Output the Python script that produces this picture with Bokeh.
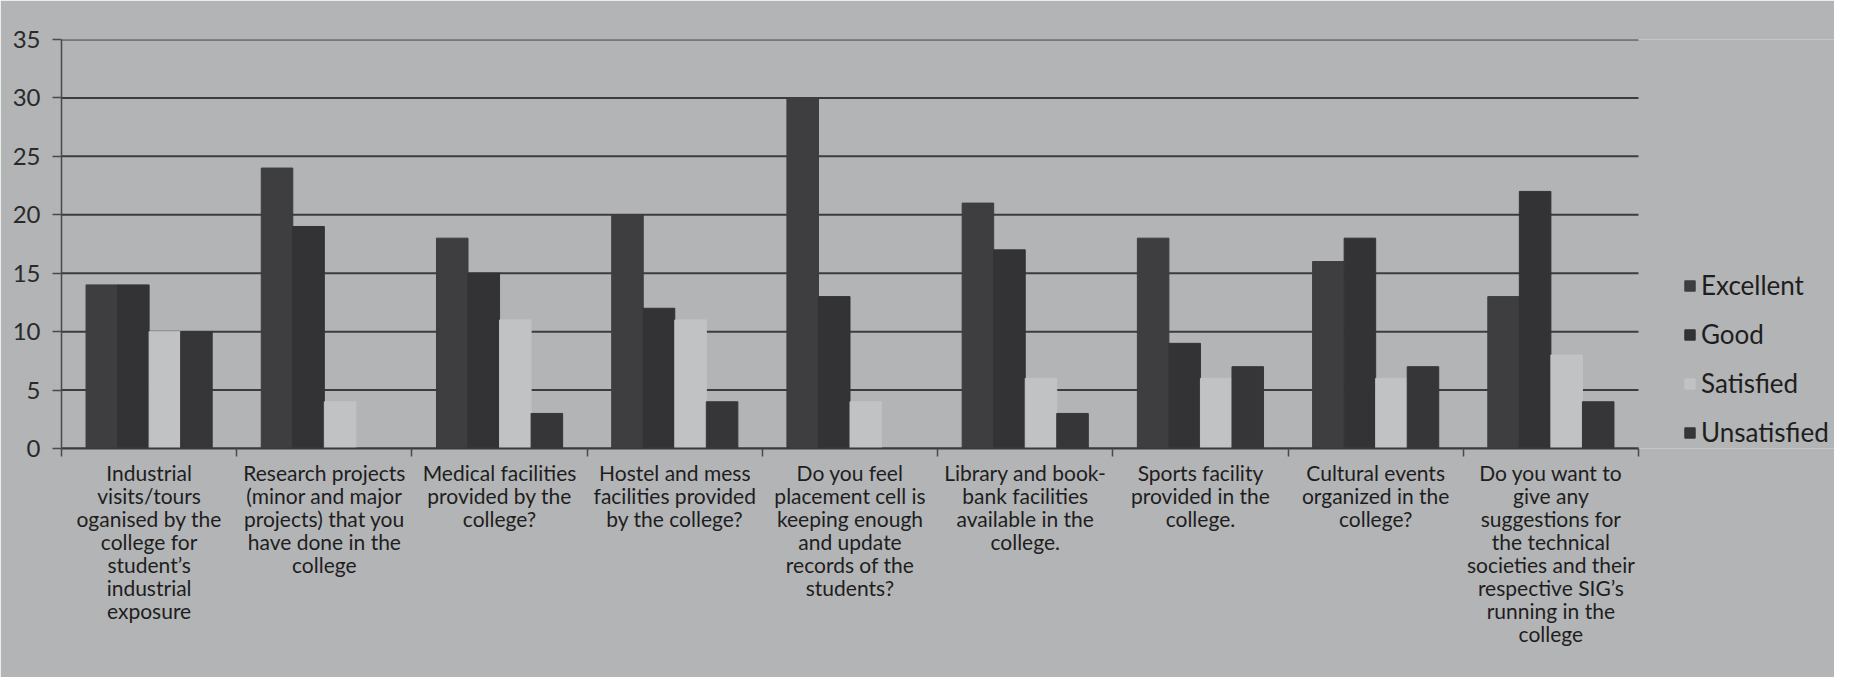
from bokeh.plotting import figure
from bokeh.models import (Range1d, FixedTicker, ColumnDataSource, Legend, LegendItem)
from bokeh.transform import dodge
from bokeh.embed import file_html
from bokeh.resources import INLINE

categories = [
    "Industrial\nvisits/tours\noganised by the\ncollege for\nstudent\u2019s\nindustrial\nexposure",
    "Research projects\n(minor and major\nprojects) that you\nhave done in the\ncollege",
    "Medical facilities\nprovided by the\ncollege?",
    "Hostel and mess\nfacilities provided\nby the college?",
    "Do you feel\nplacement cell is\nkeeping enough\nand update\nrecords of the\nstudents?",
    "Library and book-\nbank facilities\navailable in the\ncollege.",
    "Sports facility\nprovided in the\ncollege.",
    "Cultural events\norganized in the\ncollege?",
    "Do you want to\ngive any\nsuggestions for\nthe technical\nsocieties and their\nrespective SIG\u2019s\nrunning in the\ncollege",
]
excellent   = [14, 24, 18, 20, 30, 21, 18, 16, 13]
good        = [14, 19, 15, 12, 13, 17,  9, 18, 22]
satisfied   = [10,  4, 11, 11,  4,  6,  6,  6,  8]
unsatisfied = [10,  0,  3,  4,  0,  3,  7,  7,  4]
series = ["Excellent", "Good", "Satisfied", "Unsatisfied"]
y_ticks = [0, 5, 10, 15, 20, 25, 30, 35]

BG = "#b3b4b6"
colors = ["#3e3e40", "#333335", "#c1c2c4", "#363638"]
FONT = "Lato"

W, H = 1834, 677
LEFT, TOP, BOTTOM = 61, 39, 229
PLOT_RIGHT = 1638          # where the category axis ends
n = len(categories)
x_end = n * (W - LEFT) / (PLOT_RIGHT - LEFT)   # extra room on the right for the legend

centers = [i + 0.5 for i in range(n)]
src = ColumnDataSource(dict(x=centers, Excellent=excellent, Good=good,
                            Satisfied=satisfied, Unsatisfied=unsatisfied))
grid_src = ColumnDataSource(dict(y=y_ticks, x0=[0] * len(y_ticks), x1=[n] * len(y_ticks)))

p = figure(width=W, height=H, output_backend="svg", toolbar_location=None,
           x_range=Range1d(0, x_end), y_range=Range1d(0, 35),
           min_border_left=LEFT, min_border_right=0, min_border_top=TOP, min_border_bottom=BOTTOM)
p.background_fill_color = BG
p.border_fill_color = BG
p.outline_line_color = None
p.xgrid.grid_line_color = None
p.ygrid.grid_line_color = None

# horizontal gridlines over the category area only
p.segment(x0="x0", x1="x1", y0="y", y1="y", source=grid_src,
          line_color="#3c3c3c", line_width=2)

bw = 0.18
offs = [-1.5 * bw, -0.5 * bw, 0.5 * bw, 1.5 * bw]
renderers = []
for s, c, o in zip(series, colors, offs):
    r = p.vbar(x=dodge("x", o), top=s, width=bw, bottom=0, source=src,
               fill_color=c, line_color=c, line_width=1)
    renderers.append(r)

# y axis
p.yaxis.ticker = FixedTicker(ticks=y_ticks)
p.yaxis.major_label_text_font = FONT
p.yaxis.major_label_text_font_size = "24px"
p.yaxis.major_label_text_color = "#2a2a2a"
p.yaxis.axis_line_color = "#4a4a4a"
p.yaxis.axis_line_width = 1.5
p.yaxis.major_tick_line_color = "#4a4a4a"
p.yaxis.major_tick_line_width = 1.5
p.yaxis.major_tick_out = 9
p.yaxis.major_tick_in = 0
p.yaxis.minor_tick_line_color = None
p.yaxis.major_label_standoff = 12

# x axis: labels at centres, ticks at category boundaries
p.xaxis.bounds = (0, n)
p.xaxis.ticker = FixedTicker(ticks=centers, minor_ticks=list(range(n + 1)))
p.xaxis.major_label_overrides = {c: lab for c, lab in zip(centers, categories)}
p.xaxis.major_label_text_font = FONT
p.xaxis.major_label_text_font_size = "21px"
p.xaxis.major_label_text_line_height = 0.92
p.xaxis.major_label_text_color = "#1e1e1e"
p.xaxis.major_label_standoff = 3
p.xaxis.major_tick_line_color = None
p.xaxis.minor_tick_line_color = "#4a4a4a"
p.xaxis.minor_tick_out = 8
p.xaxis.minor_tick_in = 0
p.xaxis.minor_tick_line_width = 1.5
p.xaxis.axis_line_color = "#3a3a3a"
p.xaxis.axis_line_width = 2

legend = Legend(items=[LegendItem(label=s, renderers=[r]) for s, r in zip(series, renderers)],
                location=(1622, 0))
legend.background_fill_alpha = 0
legend.border_line_color = None
legend.padding = 0
legend.margin = 0
legend.glyph_width = 13
legend.glyph_height = 13
legend.label_height = 26
legend.spacing = 17
legend.label_text_font = FONT
legend.label_text_font_size = "26px"
legend.label_text_color = "#1e1e1e"
legend.label_standoff = 5
p.add_layout(legend, "center")

open("out.html", "w").write(file_html(p, INLINE))
